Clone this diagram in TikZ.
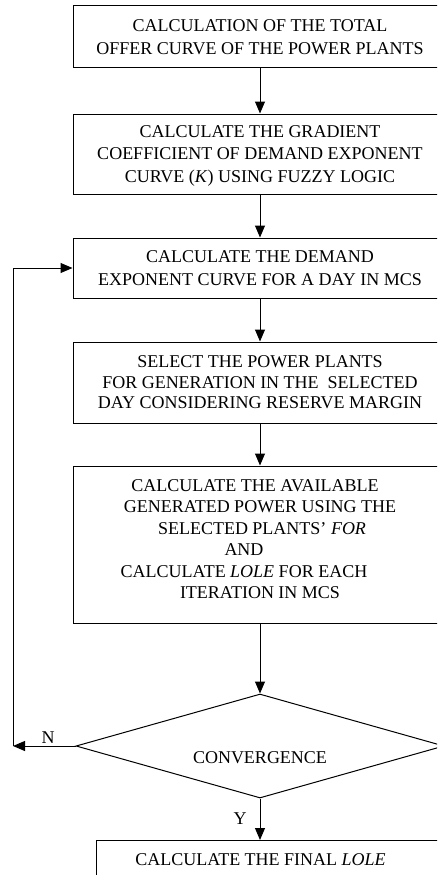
\documentclass[tikz,border=0pt]{standalone}
\usepackage{fontspec}
\setmainfont{Liberation Serif}
\usetikzlibrary{arrows.meta,shapes.geometric}
\begin{document}
\begin{tikzpicture}[x=1pt,y=-1pt,
  box/.style={draw, line width=1pt, minimum width=374pt, inner sep=0pt, align=center,
    font=\fontsize{18}{22.5}\selectfont},
  flow/.style={line width=1pt, -{Triangle[width=10pt,length=12pt]}},
  lbl/.style={font=\fontsize{18}{22}\selectfont, inner sep=0pt}]
\useasboundingbox (0,0) rectangle (437,875);
\clip (0,0) rectangle (437,875);
\node[box, minimum height=62pt] (b1) at (260,37)
  {CALCULATION OF THE TOTAL\\OFFER CURVE OF THE POWER PLANTS};
\node[box, minimum height=80pt, text depth=0pt] (b2) at (260,154)
  {CALCULATE THE GRADIENT\\COEFFICIENT OF DEMAND EXPONENT\\CURVE (\textit{K}) USING FUZZY LOGIC};
\node[box, minimum height=60pt] (b3) at (260,268)
  {CALCULATE THE DEMAND\\EXPONENT CURVE FOR A DAY IN MCS};
\node[box, minimum height=81pt, font=\fontsize{18}{20.5}\selectfont] (b4) at (260,382.5)
  {SELECT THE POWER PLANTS\\FOR GENERATION IN THE\ \ SELECTED\\DAY CONSIDERING RESERVE MARGIN};
\node[box, minimum height=157pt, text depth=11pt, font=\fontsize{18}{21.5}\selectfont] (b5) at (260,544.5)
  {\mbox{CALCULATE THE AVAILABLE\kern10pt}\\
   GENERATED POWER USING THE\\
   \mbox{\kern4pt SELECTED PLANTS' \textit{FOR}}\\
   \mbox{AND\kern32pt}\\
   \mbox{CALCULATE \textit{LOLE} FOR EACH\kern32pt}\\
   ITERATION IN MCS};
\node[draw, diamond, line width=1pt, minimum width=368pt, minimum height=104pt, inner sep=0pt] (d) at (260,746) {};
\node[lbl] (dt) at (260,758) {CONVERGENCE};
\node[box, minimum width=380pt, anchor=north west, inner ysep=13pt, text height=12pt, text depth=0pt] (b6) at (96,840)
  {\mbox{CALCULATE THE FINAL \textit{LOLE}\kern52pt}};
\coordinate (fb) at (13,746);
\draw[flow] (b1.south) -- (b2.north);
\draw[flow] (b2.south) -- (b3.north);
\draw[flow] (b3.south) -- (b4.north);
\draw[flow] (b4.south) -- (b5.north);
\draw[flow] (b5.south) -- (d.north);
\draw[flow] (d.south) -- (d.south |- b6.north);
\draw[flow] (d.west) -- (fb);
\draw[flow] (fb) |- (b3.west);
\node[lbl] (n) at (48,738) {N};
\node[lbl] (y) at (240,819) {Y};
\end{tikzpicture}
\end{document}
